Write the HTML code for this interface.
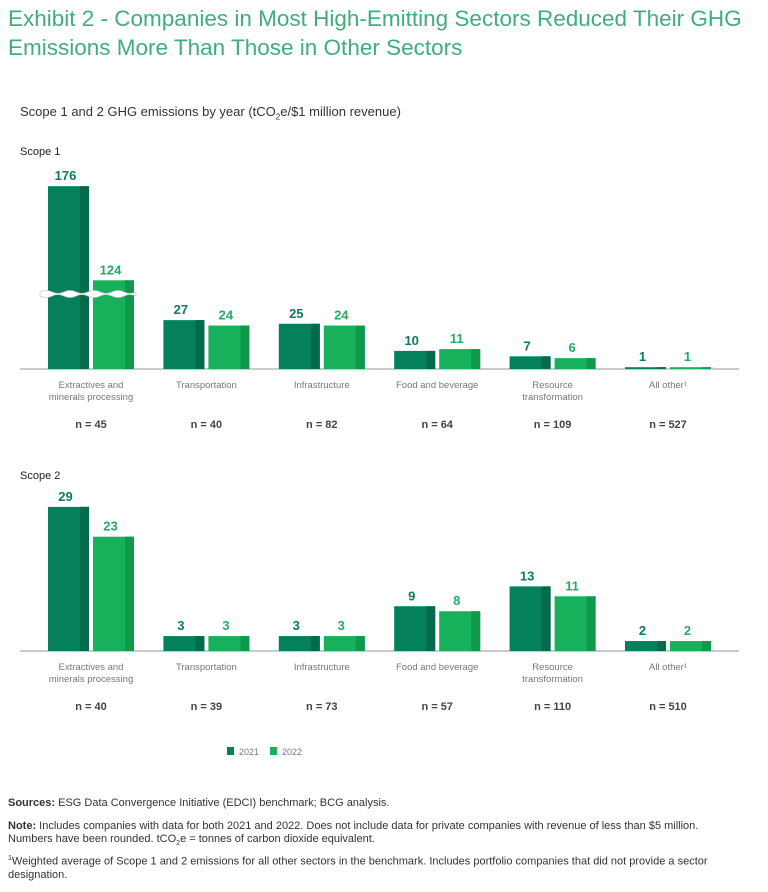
<!DOCTYPE html>
<html><head><meta charset="utf-8"><style>
body{margin:0;background:#fff;font-family:"Liberation Sans",sans-serif;}
#wrap{position:relative;width:768px;height:892px;overflow:hidden;}
.t{position:absolute;white-space:nowrap;}
</style></head><body><div id="wrap">
<div class="t" style="left:8px;top:4px;font-size:22.5px;line-height:29px;color:#3fae7c;">Exhibit 2 - Companies in Most High-Emitting Sectors Reduced Their GHG<br>Emissions More Than Those in Other Sectors</div>
<div class="t" style="left:20px;top:104px;font-size:13px;color:#333;">Scope 1 and 2 GHG emissions by year (tCO<sub style="font-size:8px">2</sub>e/$1 million revenue)</div>
<svg id="svg" width="768" height="892" style="position:absolute;left:0;top:0"></svg>
<div class="t" style="left:8px;top:797px;font-size:11px;color:#333;"><b>Sources:</b> ESG Data Convergence Initiative (EDCI) benchmark; BCG analysis.</div>
<div class="t" style="left:8px;top:820px;font-size:11px;line-height:13px;color:#333;"><b>Note:</b> Includes companies with data for both 2021 and 2022. Does not include data for private companies with revenue of less than $5 million.<br>Numbers have been rounded. tCO<sub style="font-size:7px">2</sub>e = tonnes of carbon dioxide equivalent.</div>
<div class="t" style="left:8px;top:852px;font-size:11px;line-height:13px;color:#333;"><sup style="font-size:7px">1</sup>Weighted average of Scope 1 and 2 emissions for all other sectors in the benchmark. Includes portfolio companies that did not provide a sector<br>designation.</div>
</div>
<script>
const categories=["Extractives and|minerals processing","Transportation","Infrastructure","Food and beverage","Resource|transformation","All other¹"];
const scope1_2021=[176,27,25,10,7,1];
const scope1_2022=[124,24,24,11,6,1];
const scope1_n=[45,40,82,64,109,527];
const scope2_2021=[29,3,3,9,13,2];
const scope2_2022=[23,3,3,8,11,2];
const scope2_n=[40,39,73,57,110,510];
const svg=document.getElementById('svg');
const NS='http://www.w3.org/2000/svg';
function mk(tag,attrs,parent){const e=document.createElementNS(NS,tag);for(const k in attrs)e.setAttribute(k,attrs[k]);(parent||svg).appendChild(e);return e;}
function xPos(i){return 48+i*115.4;}
function drawPanel(name,title,titleY,base,scale,breakAt,breakOff,v1,v2,ns){
  const t=mk('text',{x:20,y:titleY,'font-size':11,fill:'#222','font-family':'Liberation Sans'});t.textContent=title;
  
  
  const ax=mk('line',{x1:20,x2:739,y1:base,y2:base,stroke:'#aaa','stroke-width':1.2});
  
  
  const yv=v=>{let u=v>breakAt?v-breakOff:v;return base-u*scale;};
  let broken=false;
  categories.forEach((c,i)=>{
    [[v1[i],'#05805c','#036a4b','#0a7d58',0],[v2[i],'#17b05b','#10984b','#22ad63',45]].forEach(([v,col,dk,tc,off],k)=>{
      const x=xPos(i)+off,top=yv(v),w=41;
      const g=mk('g',{});
      
      
      mk('rect',{x:x,y:top,width:w,height:base-top,fill:col},g);
      mk('rect',{x:x+32,y:top,width:9,height:base-top,fill:dk},g);
      const lb=mk('text',{x:x+w/2-3,y:top-6,'text-anchor':'middle','font-size':13,'font-weight':'bold',fill:tc,'font-family':'Liberation Sans'});
      lb.textContent=v;
      
      
      if(v>breakAt)broken=true;
    });
    const lines=c.split('|');
    lines.forEach((l,j)=>{
      const ct=mk('text',{x:xPos(i)+43,y:base+19+j*12,'text-anchor':'middle','font-size':9.5,fill:'#777','font-family':'Liberation Sans'});
      ct.textContent=l;
      
      
    });
    const nt=mk('text',{x:xPos(i)+43,y:base+59,'text-anchor':'middle','font-size':11,'font-weight':'bold',fill:'#444','font-family':'Liberation Sans'});
    nt.textContent='n = '+ns[i];
    
    
  });
  if(broken){
    const by=yv(breakAt+breakOff*0.1+ (breakOff-breakOff*0.1))-0;
    const yb=base-( (breakAt+2))*scale+0;
    const y0=292;
    const br=mk('path',{d:`M40 ${y0} q6 -3 12 0 t12 0 t12 0 t12 0 t12 0 t12 0 t12 0 t12 0 L136 ${y0+4} q-6 -3 -12 0 t-12 0 t-12 0 t-12 0 t-12 0 t-12 0 t-12 0 t-12 0 Z`,fill:'#fff',stroke:'#ccc','stroke-width':0.8});
    
    
  }
}
drawPanel('scope1','Scope 1',155,369,1.81,60,75,scope1_2021,scope1_2022,scope1_n);
drawPanel('scope2','Scope 2',479,651,4.97,1e9,0,scope2_2021,scope2_2022,scope2_n);
[['2021','#05805c',227],['2022','#17b05b',270]].forEach(([l,c,x])=>{
  const g=mk('g',{});
  
  
  mk('rect',{x:x,y:747,width:7,height:8,fill:c},g);
  const t=mk('text',{x:x+12,y:755,'font-size':9,fill:'#777','font-family':'Liberation Sans'},g);t.textContent=l;
});
</script></body></html>
